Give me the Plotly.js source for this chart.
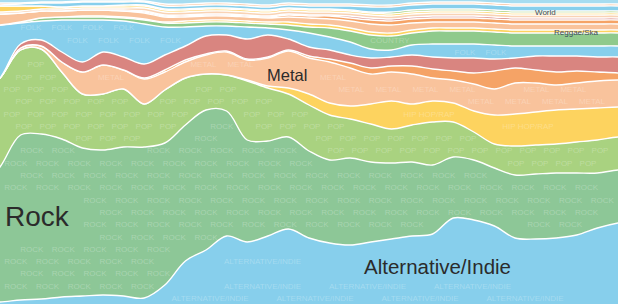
<!DOCTYPE html>
<html>
<head>
<meta charset="utf-8">
<script src="https://cdn.plot.ly/plotly-3.0.1.min.js"></script>
<style>html,body{margin:0;padding:0;background:#fff;}#chart{width:618px;height:304px;}</style>
</head>
<body>
<div id="chart"></div>
<script>
// sample positions along the time axis (the first and last lie just outside the view)
const steps = [-1,0,1,2,3,4,5,6,7,8,9,10,11,12,13,14,15,16,17,18,19,20,21,22,23,24,25,26,27,28,29,30,31];

// layer thicknesses, bottom to top
const altIndie   = [2,2,4,5,7,8,9,8,6,19,43,54,68,62,68,75,66,61,59,62,65,68,70,86,84,78,66,65,66,69,76,81,84];
const rock       = [112,135,165,165,158,148,145,149,151,142,136,140,125,102,95,92,87,83,87,80,76,74,69,61,60,58,63,65,65,62,55,53,50];
const pop        = [95,89,85,85,67,54,56,58,43,53,47,36,36,59,53,43,46,45,39,38,34,37,43,35,28,24,29,29,29,31,33,33,33];
const hipHop     = [0,0,0,0,0,0,0,0,0,0,0,0,0,1,2,6,11,12,13,20,28,21,21,19,21,29,32,33,34,33,32,30,29];
const metal      = [0,0,2,3,10,22,29,19,25,18,16,19,23,20,28,37,36,41,38,30,29,30,23,23,27,26,31,29,25,26,27,27,27];
const dance      = [0,0,0,0,0,0,0,0,1,2,2,1,1,1,1,1,2,3,5,6,6,8,9,9,11,18,15,13,13,12,9,7,6];
const rnbSoul    = [0,0,4,6,10,10,13,13,14,15,14,18,16,20,22,11,9,9,8,10,9,11,12,13,15,12,10,14,16,15,15,16,16];
const folk       = [69,53,21,19,32,42,32,36,40,28,19,10,9,12,7,9,14,13,13,9,7,10,13,14,14,14,12,10,10,10,11,11,11];
const country    = [0,0,1,3,3,3,3,3,4,4,4,4,4,4,4,5,6,9,11,14,14,12,13,13,13,13,13,13,13,13,13,13,13];
const reggaeSka  = [0,0,0,0,0,1,1,1,1,1,2,2,2,2,2,3,3,3,3,3,3,3,3,3,3,3,3,3,3,3,3,3,3];
const gospel     = [11,11,9,7,6,6,6,6,6,5,4,4,4,4,4,5,6,6,7,8,8,7,6,6,6,6,6,6,6,6,6,6,6];
const blues      = [0,0,0,0,0,0,0,0,1,1,1,1,1,1,1,2,2,3,3,4,4,4,4,4,4,4,4,4,4,4,4,4,4];
const jazz       = [0,0,0,0,0,0,0,1,1,1,1,1,1,1,1,1,1,1,2,2,2,2,2,2,2,2,2,2,2,2,2,2,2];
const classical  = [2,2,2,2,2,2,2,2,3,3,3,3,3,3,3,3,3,3,3,3,3,3,3,3,3,3,3,3,3,3,3,3,3];
const soundtrack = [6,6,5,3,2,2,2,2,2,2,2,2,2,2,2,2,2,2,2,2,2,2,2,2,2,2,2,2,2,2,2,2,2];
const latin      = [0,0,0,0,0,0,0,1,1,1,1,1,1,1,1,1,1,1,1,1,2,2,2,2,2,2,2,2,2,2,2,2,2];
const world      = [1,1,2,3,4,4,4,3,3,3,3,3,3,3,3,3,3,3,4,5,5,5,5,5,5,5,5,5,5,5,5,5,5];
const easyListen = [2,2,1,1,1,1,1,1,1,2,2,2,2,2,2,2,2,2,2,2,2,2,2,2,2,2,2,2,2,2,2,2,2];
const vocal      = [8,8,8,7,7,6,6,6,6,9,9,8,8,9,10,8,9,9,9,10,10,8,7,7,7,8,9,9,9,9,9,9,9];

// faint repeated genre names inside the big bands: [series, word, repeat spacing in px]
const watermarkBands = [
  [altIndie, "ALTERNATIVE/INDIE", 105],
  [rock, "ROCK", 31.7],
  [pop, "POP", 24],
  [hipHop, "HIP HOP/RAP", 66],
  [metal, "METAL", 37],
  [dance, "DANCE/ELECTRONIC", 96],
  [rnbSoul, "R&B/SOUL", 52],
  [folk, "FOLK", 31],
  [country, "COUNTRY", 52]
];

const layers = [
  ["Alternative/Indie", altIndie, "#87cfec"],
  ["Rock", rock, "#8dc797"],
  ["Pop", pop, "#a9d280"],
  ["Hip Hop/Rap", hipHop, "#fdd35f"],
  ["Metal", metal, "#f9c39c"],
  ["Dance/Electronic", dance, "#f5a366"],
  ["R&B/Soul", rnbSoul, "#d98580"],
  ["Folk", folk, "#87cfec"],
  ["Country", country, "#8fca8c"],
  ["Reggae/Ska", reggaeSka, "#fdd35f"],
  ["Christian/Gospel", gospel, "#f9c39c"],
  ["Blues", blues, "#f5a366"],
  ["Jazz", jazz, "#d98580"],
  ["Classical", classical, "#f9d3b5"],
  ["Soundtrack", soundtrack, "#fdd35f"],
  ["Latin", latin, "#a9d280"],
  ["World", world, "#87cfec"],
  ["Easy Listening", easyListen, "#f9c39c"],
  ["Vocal", vocal, "#a6dcf0"]
];

const W = 618, H = 304, X0 = 0, X1 = 30;
const pxPerStep = W / (X1 - X0);

const traces = layers.map(([name, vals, col]) => ({
  type: "scatter",
  mode: "lines",
  name: name,
  x: steps,
  y: vals,
  stackgroup: "genres",
  line: {color: "#ffffff", width: 1.4, shape: "spline", smoothing: 1},
  fillcolor: col,
  hoverinfo: "skip"
}));

// main labels (pixel boxes from the top-left, used only to keep watermark words clear of them)
const labelFont = "Liberation Sans, Arial, Helvetica, sans-serif";
const labels = [
  {text: "Rock", x: 3, y: 216, size: 28, color: "#2b2b2b", box: [0, 196, 72, 238]},
  {text: "Alternative/Indie", x: 362, y: 266, size: 20.5, color: "#2b2b2b", box: [356, 252, 516, 281]},
  {text: "Metal", x: 265, y: 75, size: 16.5, color: "#2b2b2b", box: [260, 63, 312, 87]},
  {text: "World", x: 533, y: 13, size: 8, color: "#3d4a5c", box: [530, 7, 558, 19]},
  {text: "Reggae/Ska", x: 552, y: 32, size: 8, color: "#3d4a5c", box: [549, 26, 602, 38]}
];

// stacked bottoms/tops from the data, used to keep the watermark words inside their band
const bottoms = new Map(), tops = new Map();
{
  let run = steps.map(() => 0);
  layers.forEach(([, vals]) => {
    const b = run.slice();
    run = run.map((v, i) => v + vals[i]);
    bottoms.set(vals, b); tops.set(vals, run.slice());
  });
}
function interp(arr, s) {
  const i0 = Math.max(0, Math.min(steps.length - 2, Math.floor(s - steps[0])));
  const t = (s - steps[i0]);
  return arr[i0] + (arr[i0 + 1] - arr[i0]) * t;
}
const wmX = [], wmY = [], wmT = [];
const placed = labels.map(l => l.box);
const charW = 5.4, rowGap = 12.3, pad = 4.3;
function hits(bx) {
  return placed.some(p => bx[0] < p[2] && bx[2] > p[0] && bx[1] < p[3] && bx[3] > p[1]);
}
watermarkBands.forEach(([vals, word, step]) => {
  const b = bottoms.get(vals), t = tops.get(vals);
  const half = word.length * charW / 2;
  for (let r = 0; r * rowGap < H; r++) {
    const y = 5 + r * rowGap;
    const off = (r % 2) * step / 2;
    for (let xp = -step + off; xp < W + step; xp += step) {
      if (xp - half < 2 || xp + half > W - 2) continue;
      let ok = true;
      for (const dx of [-half, 0, half]) {
        const s = (xp + dx) / pxPerStep;
        const lo = interp(b, s), hi = interp(t, s);
        if (y - pad < lo || y + pad > hi) { ok = false; break; }
      }
      const bx = [xp - half, H - y - 5, xp + half, H - y + 5];
      if (ok && !hits(bx)) {
        placed.push(bx);
        wmX.push(xp / pxPerStep); wmY.push(y); wmT.push(word);
      }
    }
  }
});
traces.push({
  type: "scatter", mode: "text", x: wmX, y: wmY, text: wmT,
  textfont: {family: "Liberation Sans, Arial, sans-serif", size: 8, color: "rgba(255,255,255,0.26)"},
  hoverinfo: "skip", showlegend: false
});

const layout = {
  width: W, height: H,
  margin: {l: 0, r: 0, t: 0, b: 0},
  paper_bgcolor: "#ffffff",
  plot_bgcolor: "#ffffff",
  showlegend: false,
  xaxis: {visible: false, range: [X0, X1], fixedrange: true},
  yaxis: {visible: false, range: [0, H], fixedrange: true},
  annotations: labels.map(l => ({
    text: l.text, xref: "paper", yref: "paper", x: l.x / W, y: 1 - l.y / H,
    xanchor: "left", yanchor: "middle", showarrow: false,
    font: {family: labelFont, size: l.size, color: l.color}
  }))
};

Plotly.newPlot("chart", traces, layout, {staticPlot: true, displayModeBar: false});
</script>
</body>
</html>
